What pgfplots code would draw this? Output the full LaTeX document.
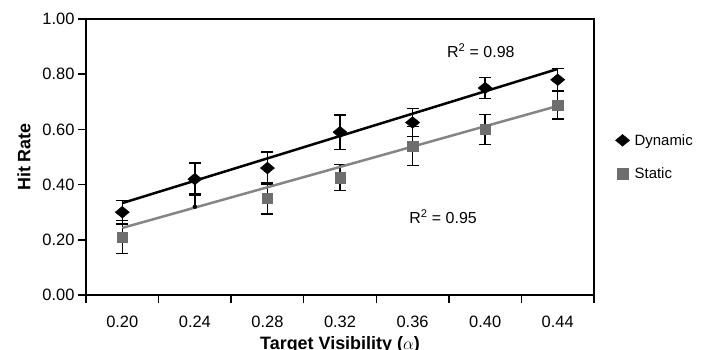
\documentclass[border=0pt]{standalone}
\usepackage{fontspec}
\setmainfont{Liberation Sans}
\usepackage{pgfplots}
\usepackage{pgfplotstable}
\pgfplotsset{compat=1.18}
\definecolor{statgray}{HTML}{6E6E6E}
\definecolor{linegray}{HTML}{858585}

\pgfplotstableread{
x y ep em
0 0.300 0.042 0.042
1 0.420 0.058 0.058
2 0.460 0.058 0.058
3 0.590 0.063 0.063
4 0.625 0.050 0.050
5 0.750 0.038 0.038
6 0.780 0.040 0.040
}\dynamic

\pgfplotstableread{
x y ep em
0 0.210 0.060 0.060
2 0.350 0.057 0.057
3 0.425 0.047 0.047
4 0.540 0.070 0.070
5 0.600 0.054 0.054
6 0.688 0.050 0.050
}\static

\pgfplotstableread{
x y ep em
1 0.320 0.046 0.000
}\statichidden

\begin{document}
\begin{tikzpicture}[x=1bp,y=1bp]
\useasboundingbox (0,0) rectangle (707,349);
\begin{axis}[
  at={(86bp,54bp)}, anchor=south west,
  scale only axis, width=508bp, height=276bp,
  xmin=-0.5, xmax=6.5, ymin=0, ymax=1,
  xtick={0,...,6},
  xticklabels={0.20,0.24,0.28,0.32,0.36,0.40,0.44},
  major x tick style={draw=none},
  minor xtick={-0.5,0.5,...,6.5},
  ytick={0,0.2,0.4,0.6,0.8,1},
  tick align=outside, tick pos=left,
  major tick length=8bp, minor tick length=8bp,
  axis line style={line width=1.5bp},
  every tick/.style={line width=1.5bp, black},
  xticklabel style={font=\fontsize{16.5}{18}\selectfont, anchor=north, yshift=-9bp},
  yticklabel style={font=\fontsize{16.5}{18}\selectfont, /pgf/number format/.cd, fixed, fixed zerofill, precision=2, assume math mode=true},
  xlabel={Target Visibility ($\alpha$)},
  ylabel={Hit Rate},
  label style={font=\fontsize{18}{20}\selectfont\bfseries},
  xlabel style={at={(axis description cs:0.5,0)}, anchor=base, yshift=-54.5bp},
  ylabel style={at={(axis description cs:0,0.5)}, anchor=center, yshift=62bp},
  legend style={draw=none, fill=none, at={(1.036,0.5)}, anchor=west,
    font=\fontsize{15}{17}\selectfont, row sep=17bp},
  legend cell align=left,
  clip=false,
]
\addplot[only marks, mark=diamond*, mark size=5.9bp, mark options={xscale=1.6, fill=black, draw=black},
  error bars/.cd, y dir=both, y explicit,
  error bar style={line width=1.5bp, black},
  error mark options={rotate=90, xscale=1, mark size=6bp, line width=1.5bp, black}]
  table[x=x, y=y, y error plus=ep, y error minus=em] {\dynamic};
\addlegendentry{\hspace{3bp}Dynamic}
\addplot[only marks, mark=square*, mark size=5.2bp, mark options={fill=statgray, draw=statgray},
  error bars/.cd, y dir=both, y explicit,
  error bar style={line width=1.5bp, black},
  error mark options={rotate=90, mark size=6bp, line width=1.5bp, black}]
  table[x=x, y=y, y error plus=ep, y error minus=em] {\static};
\addlegendentry{\hspace{3bp}Static}
\addplot[forget plot, only marks, mark=none,
  error bars/.cd, y dir=plus, y explicit,
  error bar style={line width=1.5bp, black},
  error mark options={rotate=90, mark size=6bp, line width=1.5bp, black}]
  table[x=x, y=y, y error plus=ep, y error minus=em] {\statichidden};
\addplot[forget plot, black, line width=2.5bp] coordinates {(0,0.333) (6,0.819)};
\addplot[forget plot, linegray, line width=2.5bp] coordinates {(0,0.243) (6,0.685)};
\node[font=\fontsize{16}{18}\selectfont] at (axis cs:4.94,0.884) {R\textsuperscript{2} = 0.98};
\node[font=\fontsize{16}{18}\selectfont] at (axis cs:4.42,0.283) {R\textsuperscript{2} = 0.95};
\end{axis}
\end{tikzpicture}
\end{document}
